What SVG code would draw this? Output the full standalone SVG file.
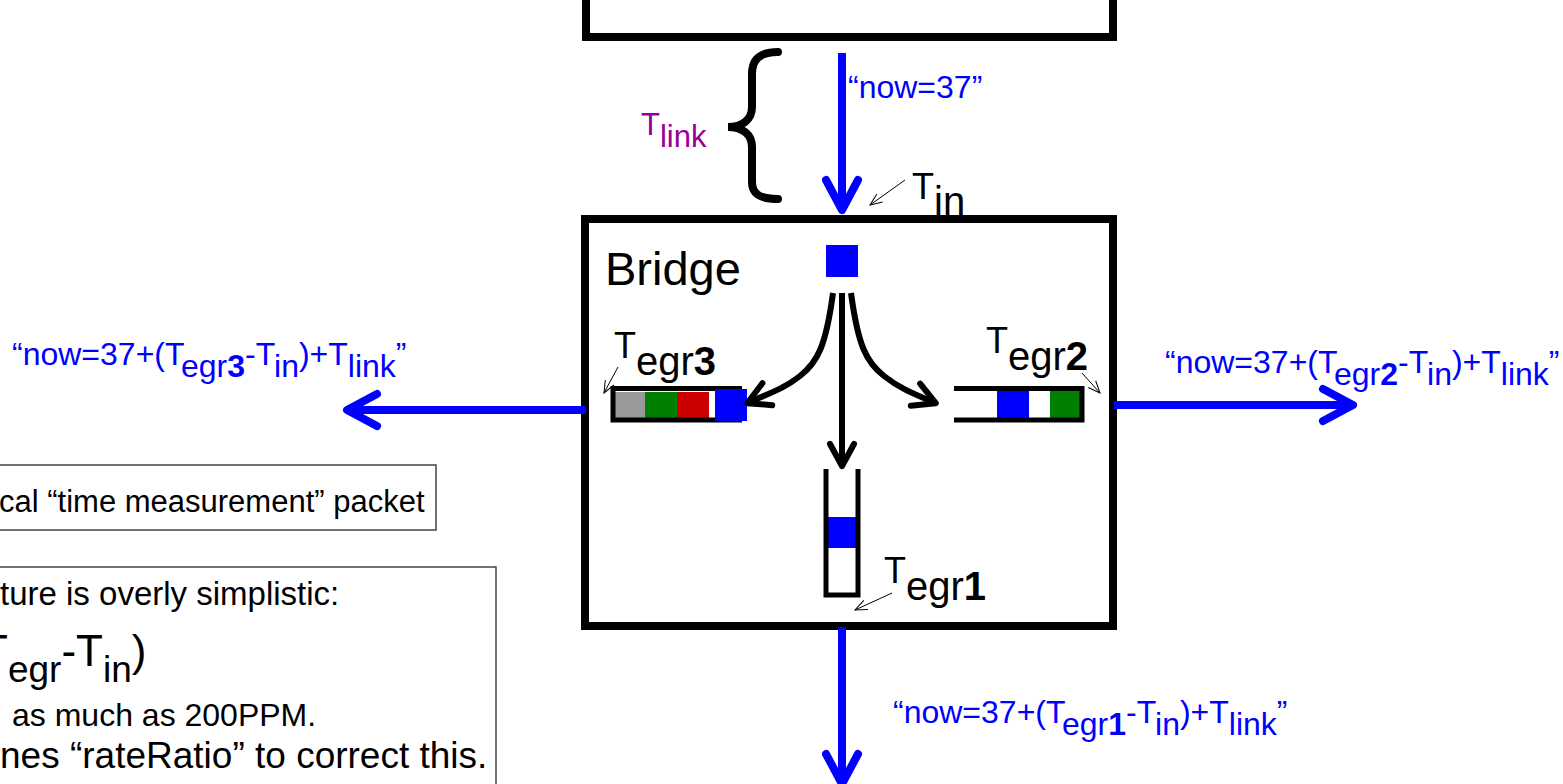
<svg xmlns="http://www.w3.org/2000/svg" width="1563" height="784" viewBox="0 0 1563 784">
<style>
text{font-family:"Liberation Sans",Arial,sans-serif;}
.blue{fill:#0000ff;font-size:32px;}
.lbl{fill:#000;font-size:36px;}
.sub{font-size:40px;}
.note{fill:#000;font-size:33px;}
.thick{fill:none;stroke:#000;stroke-width:8;}
.q{fill:none;stroke:#000;stroke-width:5;}
.barrow{fill:none;stroke:#0000ff;stroke-width:8;}
.karrow{fill:none;stroke:#000;stroke-width:6;}
.ptr{fill:none;stroke:#000;stroke-width:1;}
.b{font-weight:bold;}
</style>
<defs>
<marker id="mb" markerUnits="userSpaceOnUse" orient="auto" overflow="visible" refX="-4" refY="0" markerWidth="40" markerHeight="40">
<path d="M-30,-16 L0,0 L-30,16" fill="none" stroke="#0000ff" stroke-width="8" stroke-linecap="round" stroke-linejoin="round"/>
</marker>
<marker id="mk" markerUnits="userSpaceOnUse" orient="auto" overflow="visible" refX="-3" refY="0" markerWidth="30" markerHeight="30">
<path d="M-22,-12 L0,0 L-22,12" fill="none" stroke="#000" stroke-width="6" stroke-linecap="round" stroke-linejoin="round"/>
</marker>
<marker id="mp" markerUnits="userSpaceOnUse" orient="auto" overflow="visible" refX="0" refY="0" markerWidth="20" markerHeight="20">
<path d="M-12,-5 L0,0 L-12,5" fill="none" stroke="#000" stroke-width="1"/>
</marker>
</defs>
<rect width="1563" height="784" fill="#fff"/>

<g id="upstream">
<path class="thick" d="M586,0 V37 H1113 V0"/>
</g>

<g id="tlink">
<path d="M778,52 C760,52 752,59 752,74 V107 C752,120 742,127 728,127 C742,127 752,134 752,147 V182 C752,194 760,199 778,199" fill="none" stroke="#000" stroke-width="8" stroke-linecap="round"/>
<text x="641" y="135" style="fill:#990099;font-size:31px">T<tspan dy="12">link</tspan></text>
</g>

<g id="bridge">
<rect x="585" y="219" width="528" height="407" class="thick"/>
<text x="605" y="285" style="font-size:47px">Bridge</text>
<rect x="826" y="245" width="32" height="32" fill="#0000ff"/>
</g>

<g id="tin">
<text x="912" y="199" class="lbl">T<tspan dy="16" class="sub">in</tspan></text>
</g>

<g id="queue3">
<rect x="615" y="392" width="30" height="26" fill="#999999"/>
<rect x="645" y="392" width="32" height="26" fill="#008000"/>
<rect x="677" y="392" width="32" height="26" fill="#cc0000"/>
<path class="q" d="M742,388.5 H613 V420 H742"/>
<rect x="715" y="389" width="32" height="32" fill="#0000ff"/>
<text x="614" y="358" class="lbl">T<tspan dy="17" class="sub">egr</tspan><tspan class="b sub">3</tspan></text>
</g>

<g id="queue2">
<rect x="997" y="391" width="32" height="27" fill="#0000ff"/>
<rect x="1050" y="391" width="30" height="27" fill="#008000"/>
<path class="q" d="M954,388.5 H1082 V420 H954"/>
<text x="986" y="353" class="lbl">T<tspan dy="17" class="sub">egr</tspan><tspan class="b sub">2</tspan></text>
</g>

<g id="queue1">
<rect x="828" y="517" width="28" height="31" fill="#0000ff"/>
<path class="q" d="M826,469 V595 H858 V469"/>
<text x="884" y="583" class="lbl">T<tspan dy="17" class="sub">egr</tspan><tspan class="b sub">1</tspan></text>
</g>

<g id="connectors">
<path class="barrow" d="M842,53 V206" marker-end="url(#mb)"/>
<path class="barrow" d="M586,410 H351" marker-end="url(#mb)"/>
<path class="barrow" d="M1114,405 H1349" marker-end="url(#mb)"/>
<path class="barrow" d="M842,627 V780" marker-end="url(#mb)"/>
<path class="karrow" d="M842,293 V463" marker-end="url(#mk)"/>
<path class="karrow" d="M833,293 C826,345 818,362 800,376 C785,388 770,393 750,402" marker-end="url(#mk)"/>
<path class="karrow" d="M851,293 C858,345 866,362 884,376 C899,388 914,394 933,402" marker-end="url(#mk)"/>
<path class="ptr" d="M905,180 L870,205" marker-end="url(#mp)"/>
<path class="ptr" d="M618,367 L604,393" marker-end="url(#mp)"/>
<path class="ptr" d="M1082,373 L1100,393" marker-end="url(#mp)"/>
<path class="ptr" d="M892,593 L855,610" marker-end="url(#mp)"/>
</g>

<g id="labels">
<text x="848" y="98" class="blue">“now=37”</text>
<text x="12" y="365" class="blue">“now=37+(T<tspan dy="12">egr</tspan><tspan class="b">3</tspan><tspan dy="-12">-T</tspan><tspan dy="12">in</tspan><tspan dy="-12">)+T</tspan><tspan dy="12">link</tspan><tspan dy="-12">”</tspan></text>
<text x="1165" y="373" class="blue">“now=37+(T<tspan dy="12">egr</tspan><tspan class="b">2</tspan><tspan dy="-12">-T</tspan><tspan dy="12">in</tspan><tspan dy="-12">)+T</tspan><tspan dy="12">link</tspan><tspan dy="-12">”</tspan></text>
<text x="893" y="723" class="blue">“now=37+(T<tspan dy="12">egr</tspan><tspan class="b">1</tspan><tspan dy="-12">-T</tspan><tspan dy="12">in</tspan><tspan dy="-12">)+T</tspan><tspan dy="12">link</tspan><tspan dy="-12">”</tspan></text>
</g>

<g id="note1">
<rect x="-10" y="465" width="446" height="65" fill="none" stroke="#444" stroke-width="1.5"/>
<text x="-1" y="512" style="font-size:31px">cal “time measurement” packet</text>
</g>

<g id="note2">
<rect x="-10" y="567" width="506" height="230" fill="none" stroke="#444" stroke-width="1.5"/>
<text x="0" y="605" class="note">ture is overly simplistic:</text>
<text x="-19" y="666" style="font-size:44px">T<tspan dy="16" style="font-size:37px">egr</tspan><tspan dy="-16">-T</tspan><tspan dy="16" style="font-size:37px">in</tspan><tspan dy="-16">)</tspan></text>
<text x="12" y="726" style="font-size:32px">as much as 200PPM.</text>
<text x="0" y="768" style="font-size:37px">nes “rateRatio” to correct this.</text>
</g>
</svg>
